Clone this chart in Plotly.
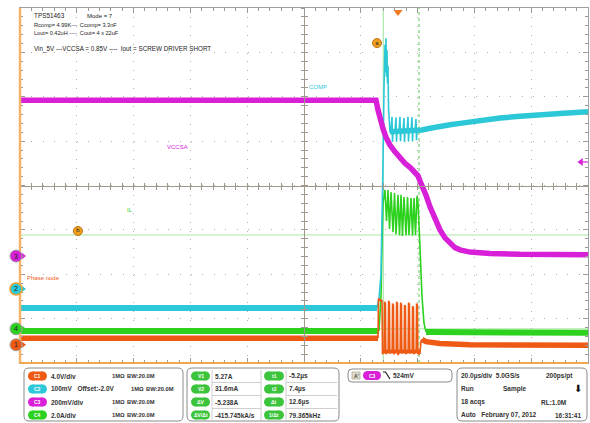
import plotly.graph_objects as go

# ---------------- data (time in µs, trigger at 0; levels in graticule divisions) ----------------
t_range = [-133.1, 66.9]      # 20 µs/div, 10 divisions
us_per_div = 20
v_range = [-4, 4]             # 8 vertical divisions

# C3 magenta : VCCSA
c3_t = [-133.1, -7.75, -7.04, -6.34, -5.28, -4.23, -2.82, -1.06, 0.70, 2.46, 4.23, 5.99, 7.04, 7.75,
        8.45, 9.86, 11.27, 13.03, 14.79, 16.55, 18.31, 20.07, 21.83, 25.35, 32.39, 42.96, 66.9]
c3_d = [1.92, 1.92, 1.70, 1.50, 1.28, 1.09, 0.91, 0.76, 0.62, 0.50, 0.41, 0.30, 0.22, 0.10,
        0.00, -0.22, -0.48, -0.75, -1.00, -1.18, -1.31, -1.40, -1.45, -1.50, -1.53, -1.55, -1.56]

# C2 cyan : COMP
c2_pre_t = [-133.1, -7.39]
c2_pre_d = [-2.76, -2.76]
c2_burst_t = [-7.39, -6.69, -5.99, -5.63, -5.28, -4.93, -4.58, -4.40, -4.23, -4.05, -3.87, -3.70, -3.52,
              -3.34, -3.17, -2.82,
              -2.46, -2.11, -1.94, -1.76, -1.06, -0.70, -0.53, -0.35, 0.35, 0.70, 0.88, 1.06,
              1.76, 2.11, 2.29, 2.46, 3.17, 3.52, 3.70, 3.87, 4.58, 4.93, 5.11, 5.28,
              5.99, 6.34, 6.52, 6.69, 7.04]
c2_burst_d = [-2.76, -2.55, -2.00, -0.90, 0.50, 2.20, 3.17, 2.55, 3.32, 2.45, 3.05, 2.30, 2.70,
              1.75, 1.45, 1.21,
              1.21, 1.55, 0.98, 1.21, 1.21, 1.53, 0.99, 1.21, 1.21, 1.55, 1.00, 1.21,
              1.21, 1.52, 0.98, 1.21, 1.21, 1.55, 1.00, 1.21, 1.22, 1.54, 0.99, 1.22,
              1.22, 1.50, 1.02, 1.22, 1.22]
c2_post_t = [-2.82, 7.04, 8.45, 11.27, 14.79, 18.31, 21.83, 28.87, 35.92, 42.96, 50.0, 57.04, 66.9]
c2_post_d = [1.21, 1.22, 1.25, 1.29, 1.34, 1.37, 1.40, 1.47, 1.52, 1.56, 1.58, 1.62, 1.66]

# C4 green : IL
c4_pre_t = [-133.1, -6.69]
c4_pre_d = [-3.28, -3.28]
c4_burst_t = [-6.69, -5.99, -5.63, -5.28, -4.58, -4.05, -3.52, -2.99, -2.46, -1.76, -1.23, -0.70, 0.0,
              0.53, 1.06, 1.58, 2.11, 2.82, 3.35, 3.87, 4.58, 5.11, 5.63, 6.16, 6.69, 7.04, 7.75,
              8.45, 9.15, 9.86]
c4_burst_d = [-3.28, -2.50, -1.30, -0.40, -0.10, -0.80, -0.10, -0.98, -0.15, -1.05, -0.17, -1.10, -0.21,
              -1.12, -0.21, -1.14, -0.26, -1.12, -0.26, -1.12, -0.28, -1.13, -0.28, -1.12, -0.24, -0.40, -1.40,
              -2.50, -3.10, -3.30]
c4_post_t = [9.86, 66.9]
c4_post_d = [-3.30, -3.32]

# C1 orange : phase node
c1_pre_t = [-133.1, -7.04]
c1_pre_d = [-3.44, -3.44]
c1_burst_t = [-7.04, -6.87, -6.52, -6.17, -5.81, -5.63, -5.46,
              -4.88, -4.73, -4.43, -4.28, -3.47, -3.32, -3.02, -2.87, -2.06, -1.91, -1.61, -1.46,
              -0.65, -0.50, -0.20, -0.05, 0.76, 0.91, 1.21, 1.36, 2.16, 2.31, 2.61, 2.76,
              3.57, 3.72, 4.02, 4.17, 4.98, 5.13, 5.43, 5.58, 6.39, 6.54, 6.84, 6.99,
              7.39, 7.75, 8.10, 8.45]
c1_burst_d = [-3.44, -2.54, -2.60, -2.56, -2.62, -2.58, -3.80,
              -3.72, -2.62, -2.66, -3.80, -3.70, -2.60, -2.64, -3.78, -3.72, -2.66, -2.70, -3.80,
              -3.70, -2.62, -2.66, -3.82, -3.72, -2.64, -2.68, -3.78, -3.70, -2.70, -2.72, -3.80,
              -3.72, -2.64, -2.68, -3.78, -3.70, -2.72, -2.75, -3.80, -3.72, -2.66, -2.70, -3.78,
              -3.80, -3.78, -3.50, -3.47]
c1_low_t = [-5.46, 7.75]
c1_low_d = [-3.74, -3.74]
c1_post_t = [8.45, 9.86, 14.79, 25.35, 66.9]
c1_post_d = [-3.47, -3.52, -3.56, -3.59, -3.60]

# channel reference markers (div) and colours
ch_names = ["1", "2", "3", "4"]
ch_pos = [-3.59, -2.33, -1.59, -3.23]
ch_colors = ["#EE5A14", "#2CC8D8", "#D820D8", "#2CD21E"]

cursor_t = [-5.2, 7.4]
cursor_v = [-1.115, -3.23]
trig_level = 0.53

# text content
notes = ["TPS51463", "Mode = 7", "Rcomp= 4.99K---  Ccomp= 3.3nF", "Lout= 0.42uH ----  Cout= 4 x 22uF",
         "Vin_5V ---VCCSA = 0.85V ----  Iout = SCREW DRIVER SHORT"]
ch_scale = ["4.0V/div", "100mV   Offset:-2.0V", "200mV/div", "2.0A/div"]
cur_lab_v = ["V1", "V2", "ΔV", "ΔV/Δt"]
cur_val_v = ["5.27A", "31.6mA", "-5.238A", "-415.745kA/s"]
cur_lab_t = ["t1", "t2", "Δt", "1/Δt"]
cur_val_t = ["-5.2µs", "7.4µs", "12.6µs", "79.365kHz"]

# ---------------- layout helpers ----------------
W, H = 590, 423
ML, MR, MT, MB = 20, 2, 8, 60
PW, PH = W - ML - MR, H - MT - MB
FONT = "Liberation Sans, Arial, sans-serif"
C1, C2, C3, C4 = ch_colors
px_per_us = PW / (t_range[1] - t_range[0])
px_per_div = PH / (v_range[1] - v_range[0])


def px(x):
    return (x - ML) / PW


def py(y):
    return (H - MB - y) / PH


fig = go.Figure()


def line(t, d, color, width, dash="solid"):
    fig.add_trace(go.Scatter(x=t, y=d, mode="lines", line=dict(color=color, width=width, dash=dash),
                             hoverinfo="skip", showlegend=False))


# traces
line(c4_pre_t, c4_pre_d, C4, 6)
line(c4_burst_t, c4_burst_d, C4, 1.6)
line(c4_post_t, c4_post_d, C4, 6)
line(c2_pre_t, c2_pre_d, C2, 6)
line(c2_post_t, c2_post_d, C2, 5.5)
line(c2_burst_t, c2_burst_d, C2, 1.6)
line(c1_pre_t, c1_pre_d, C1, 5.5)
line(c1_low_t, c1_low_d, C1, 4)
line(c1_burst_t, c1_burst_d, C1, 1.6)
line(c1_post_t, c1_post_d, C1, 5.5)
line(c3_t, c3_d, C3, 5.5)

# channel reference arrows on the left edge
fig.add_trace(go.Scatter(
    x=[t_range[0] + 3 / px_per_us] * 4, y=ch_pos, mode="markers",
    marker=dict(symbol="triangle-right", size=6, color=ch_colors),
    hoverinfo="skip", showlegend=False))

# trigger level arrow (right) and trigger position (top)
fig.add_trace(go.Scatter(x=[t_range[1] - 7 / px_per_us, t_range[1]], y=[trig_level, trig_level],
                         mode="lines", line=dict(color=C3, width=1.2), hoverinfo="skip", showlegend=False))
fig.add_trace(go.Scatter(x=[t_range[1] - 7 / px_per_us], y=[trig_level], mode="markers",
                         marker=dict(symbol="triangle-left", size=7, color=C3),
                         hoverinfo="skip", showlegend=False))
fig.add_trace(go.Scatter(x=[0], y=[v_range[1] - 4 / px_per_div], mode="markers",
                         marker=dict(symbol="triangle-down", size=8, color="#F07A20"),
                         hoverinfo="skip", showlegend=False))

# a / b markers
fig.add_trace(go.Scatter(x=[-7.39, -112.7], y=[3.21, -1.025], mode="markers+text", text=["a", "b"],
                         textposition="middle center", textfont=dict(size=6, color="#222", family=FONT),
                         marker=dict(size=9, color="#F0A020", line=dict(color="#C07010", width=1)),
                         hoverinfo="skip", showlegend=False))

# dummy traces for the centre-cross axes
for k in ("2", "3"):
    fig.add_trace(go.Scatter(x=[None], y=[None], xaxis="x" + k, yaxis="y" + k, mode="markers",
                             hoverinfo="skip", showlegend=False))

TICK = "#9a9a9a"
GRID = "#b0b0b0"
CENTER = "#a09888"

ax_common = dict(showticklabels=False, zeroline=False, fixedrange=True)
xmain = dict(range=t_range, tick0=t_range[0], dtick=us_per_div, ticks="inside", ticklen=5, tickcolor=TICK,
             showline=True, linecolor="#a0a0a0", linewidth=1, mirror="allticks",
             showgrid=True, gridcolor=GRID, gridwidth=1, griddash="1px,7.9px",
             minor=dict(ticks="inside", ticklen=3, dtick=us_per_div / 5, tick0=t_range[0], tickcolor=TICK,
                        showgrid=False), **ax_common)
ymain = dict(range=v_range, tick0=v_range[0], dtick=1, ticks="inside", ticklen=5, tickcolor=TICK,
             showline=True, linecolor="#a0a0a0", linewidth=1, mirror="allticks",
             showgrid=True, gridcolor=GRID, gridwidth=1, griddash="1px,10.4px",
             minor=dict(ticks="inside", ticklen=3, dtick=0.2, tick0=v_range[0], tickcolor=TICK, showgrid=False),
             **ax_common)


def cx(ticks, showline):
    return dict(overlaying="x", anchor="free", position=0.5, range=t_range, tick0=t_range[0], dtick=us_per_div,
                ticks=ticks, ticklen=3, tickcolor=CENTER, showline=showline, linecolor=CENTER, linewidth=1,
                showgrid=False,
                minor=dict(ticks=ticks, ticklen=3, dtick=us_per_div / 5, tick0=t_range[0], tickcolor=CENTER),
                **ax_common)


def cy(ticks, showline):
    return dict(overlaying="y", anchor="free", position=0.5, range=v_range, tick0=v_range[0], dtick=1,
                ticks=ticks, ticklen=3, tickcolor=CENTER, showline=showline, linecolor=CENTER, linewidth=1,
                showgrid=False,
                minor=dict(ticks=ticks, ticklen=3, dtick=0.2, tick0=v_range[0], tickcolor=CENTER),
                **ax_common)


shapes = []
ann = []

# cursors
shapes.append(dict(type="line", xref="x", yref="paper", x0=cursor_t[0], x1=cursor_t[0], y0=0, y1=1,
                   line=dict(color="#9de09d", width=1), layer="between"))
shapes.append(dict(type="line", xref="x", yref="paper", x0=cursor_t[1], x1=cursor_t[1], y0=0, y1=1,
                   line=dict(color="#5cc85c", width=1, dash="dot"), layer="between"))
for v in cursor_v:
    shapes.append(dict(type="line", xref="paper", yref="y", x0=0, x1=1, y0=v, y1=v,
                       line=dict(color="#a8e8a0", width=1), layer="between"))

# orange left / bottom borders
shapes.append(dict(type="line", xref="paper", yref="paper", x0=0, x1=0, y0=0, y1=1,
                   line=dict(color="#F4B468", width=2.5)))
shapes.append(dict(type="line", xref="paper", yref="paper", x0=0, x1=1, y0=0, y1=0,
                   line=dict(color="#F2A848", width=2)))

# channel reference circles in the left margin (positioned on the y axis)
rdiv = 6 / px_per_div
for i, d in enumerate(ch_pos):
    shapes.append(dict(type="circle", xref="paper", yref="y", x0=px(10), x1=px(22), y0=d - rdiv, y1=d + rdiv,
                       fillcolor=ch_colors[i],
                       line=dict(color="#F0A030" if i == 1 else "#a0a0a0", width=1.5 if i == 1 else 1)))
    ann.append(dict(xref="paper", yref="y", x=px(16), y=d, text=ch_names[i], showarrow=False,
                    xanchor="center", yanchor="middle", font=dict(size=7, color="#222", family=FONT)))


def txt(x, y, s, size=6.5, color="#333", anchor="left", bold=True, font=FONT):
    ann.append(dict(xref="paper", yref="paper", x=px(x), y=py(y), text=("<b>%s</b>" % s) if bold else s,
                    showarrow=False, xanchor=anchor, yanchor="middle", borderpad=0,
                    font=dict(size=size, color=color, family=font)))


def rrect(x0, y0, x1, y1, r, fill="white", col="#8a8a8a", w=1):
    p = ("M {a},{b} L {c},{b} Q {d},{b} {d},{e} L {d},{f} Q {d},{g} {c},{g} L {a},{g} "
         "Q {h},{g} {h},{f} L {h},{e} Q {h},{b} {a},{b} Z").format(
        a=px(x0 + r), b=py(y0), c=px(x1 - r), d=px(x1), e=py(y0 + r), f=py(y1 - r), g=py(y1), h=px(x0))
    shapes.append(dict(type="path", xref="paper", yref="paper", path=p, fillcolor=fill,
                       line=dict(color=col, width=w)))


def pill(x0, x1, yc, color, label, h=9):
    r = h / 2
    shapes.append(dict(type="rect", xref="paper", yref="paper", x0=px(x0 + r), x1=px(x1 - r),
                       y0=py(yc + r), y1=py(yc - r), fillcolor=color, line=dict(width=0)))
    for cx0 in (x0, x1 - h):
        shapes.append(dict(type="circle", xref="paper", yref="paper", x0=px(cx0), x1=px(cx0 + h),
                           y0=py(yc + r), y1=py(yc - r), fillcolor=color, line=dict(width=0)))
    txt((x0 + x1) / 2, yc, label, size=5, color="white", anchor="center")


# annotations inside the graticule
txt(33, 16, notes[0], 6.4, "#222", bold=False)
txt(86, 16, notes[1], 6.0, "#222", bold=False)
txt(33, 25, notes[2], 5.6, "#222", bold=False)
txt(33, 33, notes[3], 5.6, "#222", bold=False)
txt(33, 49, notes[4], 6.3, "#222", bold=False)
for s, x, y, col in [("COMP", -28.2, 2.22, C2), ("VCCSA", -77.8, 0.866, C3), ("IL", -94.4, -0.552, C4),
                     ("Phase node", -125.0, -2.085, C1)]:
    ann.append(dict(xref="x", yref="y", x=x, y=y, text=s, showarrow=False, xanchor="center", yanchor="middle",
                    font=dict(size=6, color=col, family=FONT)))

rows = [376, 389, 402, 415]

# panel 1 : channels
rrect(24, 368, 183, 421, 5)
for i, yy in enumerate(rows):
    pill(28, 47, yy, ch_colors[i], "C%d" % (i + 1))
    txt(50, yy, ch_scale[i])
    off = 19 if i == 1 else 0
    txt(111 + off, yy, "1MΩ", size=5.8)
    txt(126 + off, yy, "BW:20.0M", size=5.8)

# panel 2 : cursors
rrect(187, 368, 339, 421, 5)
for xx in (212, 261, 286):
    shapes.append(dict(type="line", xref="paper", yref="paper", x0=px(xx), x1=px(xx), y0=py(370), y1=py(420),
                       line=dict(color="#cfcfcf", width=1)))
for yy in (382.5, 395.5, 408.5):
    for a, b in ((212, 261), (286, 337)):
        shapes.append(dict(type="line", xref="paper", yref="paper", x0=px(a), x1=px(b), y0=py(yy), y1=py(yy),
                           line=dict(color="#cfcfcf", width=1)))
for i, yy in enumerate(rows):
    pill(191, 210, yy, "#3CC43C", cur_lab_v[i])
    txt(214, yy, cur_val_v[i])
    pill(264, 284, yy, "#3CC43C", cur_lab_t[i])
    txt(288, yy, cur_val_t[i])

# panel 3 : trigger
rrect(348, 369, 452, 382, 4)
shapes.append(dict(type="rect", xref="paper", yref="paper", x0=px(352), x1=px(360), y0=py(379), y1=py(372),
                   fillcolor="#e2dccf", line=dict(color="#b0a890", width=0.8)))
txt(356, 375.5, "A'", size=5, color="#444", anchor="center")
pill(363, 381, 375.5, C3, "C3")
shapes.append(dict(type="path", xref="paper", yref="paper",
                   path="M {},{} L {},{} L {},{}".format(px(383), py(372), px(385.5), py(372), px(390), py(379)),
                   line=dict(color="#222", width=1.2)))
txt(392, 375.5, "524mV")

# panel 4 : timebase
rrect(457, 368, 587, 421, 5)
txt(460, rows[0], "20.0µs/div  5.0GS/s")
txt(545, rows[0], "200ps/pt")
txt(460, rows[1], "Run")
txt(502, rows[1], "Sample")
txt(578, rows[1], "⬇", size=10, color="#111", anchor="center", bold=False, font="DejaVu Sans")
txt(460, rows[2], "18 acqs")
txt(540, rows[2], "RL:1.0M")
txt(460, rows[3], "Auto   February 07, 2012")
txt(554, rows[3], "16:31:41")

fig.update_layout(
    width=W, height=H, margin=dict(l=ML, r=MR, t=MT, b=MB, pad=0),
    paper_bgcolor="white", plot_bgcolor="white", showlegend=False,
    xaxis=xmain, yaxis=ymain,
    xaxis2=cx("outside", True), xaxis3=cx("inside", False),
    yaxis2=cy("outside", True), yaxis3=cy("inside", False),
    shapes=shapes, annotations=ann,
)

fig.write_html("out.html", config={"displayModeBar": False},
               post_script="document.body.style.margin='0px';")
